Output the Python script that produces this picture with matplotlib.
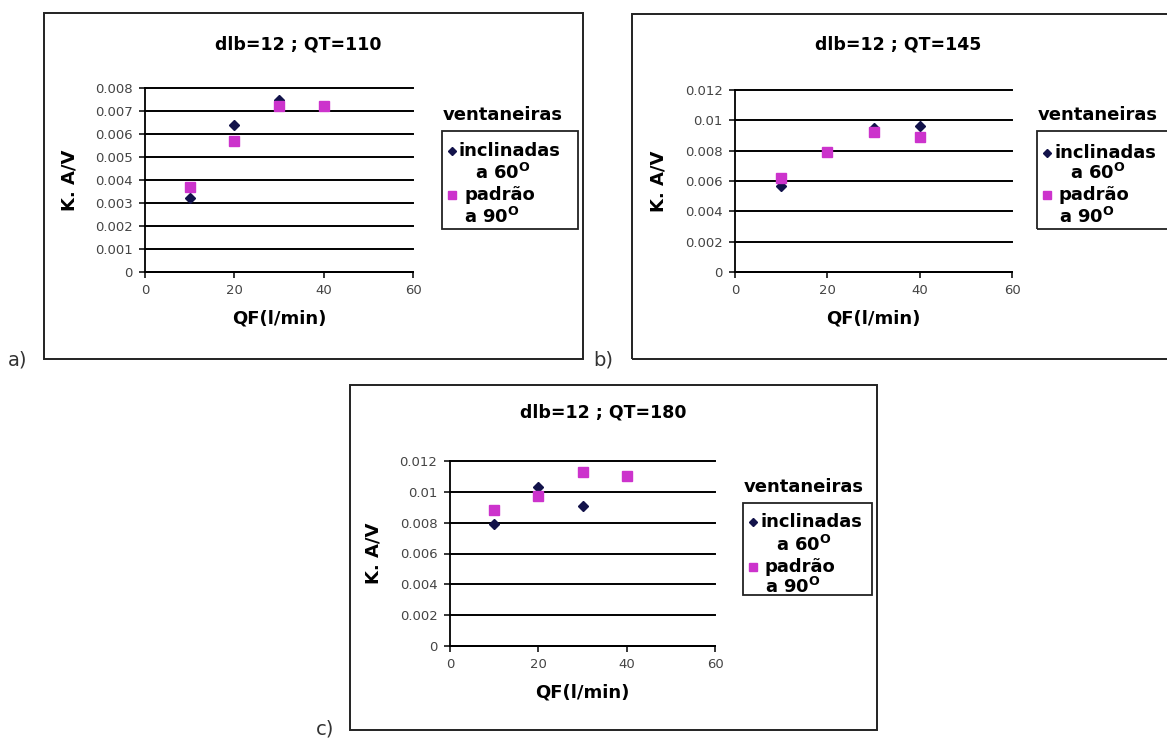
import numpy as np
import matplotlib
matplotlib.use('Agg')
from matplotlib import pyplot as plt  # noqa
from matplotlib.patches import Rectangle
from matplotlib.lines import Line2D
from matplotlib.ticker import FuncFormatter

W, H = 1167, 738

# data
qf = [10, 20, 30, 40]
incl_110 = [0.0032, 0.0064, 0.0075, np.nan]
padrao_110 = [0.0037, 0.0057, 0.0072, 0.0072]
incl_145 = [0.0057, np.nan, 0.0095, 0.0096]
padrao_145 = [0.0062, 0.0079, 0.0092, 0.0089]
incl_180 = [0.0079, 0.0103, 0.0091, np.nan]
padrao_180 = [0.0088, 0.0097, 0.0113, 0.0110]

titles = ['dlb=12 ; QT=110', 'dlb=12 ; QT=145', 'dlb=12 ; QT=180']
tags = ['a)', 'b)', 'c)']
y_max = [0.008, 0.012, 0.012]
y_step = [0.001, 0.002, 0.002]
x_ticks = [0, 20, 40, 60]
legend_title = 'ventaneiras'
legend_labels = [('inclinadas', 'a 60$^{\\mathbf{O}}$'), ('padrão', 'a 90$^{\\mathbf{O}}$')]

NAVY = '#12124a'
MAGENTA = '#cc33cc'

# pixel layout of the three panels
panels = [
    dict(box=(44, 13, 583, 359), plot=(145, 88, 413, 272), title=(298, 44),
         leg=(442, 131, 136, 98), rows=(20, 42, 64, 86), tag=(8, 360)),
    dict(box=(632, 14, 1185, 359), plot=(735, 90, 1012, 272), title=(898, 45),
         leg=(1037, 131, 145, 98), rows=(22, 42, 64, 86), tag=(593, 360)),
    dict(box=(350, 385, 877, 730), plot=(450, 461, 715, 646), title=(603, 413),
         leg=(743, 503, 129, 92), rows=(19, 42, 64, 84), tag=(316, 729)),
]


def fx(x):
    return x / W


def fy(y):
    return 1 - y / H


fig = plt.figure(figsize=(W / 100, H / 100), dpi=100)
fig.patch.set_facecolor('white')

bold = dict(fontfamily='DejaVu Sans', fontweight='bold')

series = [(incl_110, padrao_110), (incl_145, padrao_145), (incl_180, padrao_180)]

for i, p in enumerate(panels):
    x0, y0, x1, y1 = p['box']
    fig.add_artist(Rectangle((fx(x0), fy(y1)), fx(x1 - x0), (y1 - y0) / H,
                             transform=fig.transFigure, fill=False,
                             edgecolor='#222222', lw=1.4))

    l, t, r, b = p['plot']
    ax = fig.add_axes([fx(l), fy(b), fx(r - l), (b - t) / H])
    incl, padrao = series[i]
    ax.plot(qf, incl, linestyle='none', marker='D', ms=5.5, color=NAVY,
            clip_on=False, zorder=3)
    ax.plot(qf, padrao, linestyle='none', marker='s', ms=6.5, color=MAGENTA,
            clip_on=False, zorder=4)
    ax.set_xlim(0, 60)
    ax.set_ylim(0, y_max[i])
    ax.set_xticks(x_ticks)
    ax.set_yticks(np.arange(0, y_max[i] + y_step[i] / 2, y_step[i]))
    ax.yaxis.set_major_formatter(FuncFormatter(lambda v, pos: '%g' % round(v, 4)))
    ax.yaxis.grid(True, color='black', lw=1.4)
    for line in ax.get_ygridlines():
        line.set_clip_on(False)
    ax.set_axisbelow(True)
    for s in ('top', 'right'):
        ax.spines[s].set_visible(False)
    for s in ('left', 'bottom'):
        ax.spines[s].set_linewidth(1.3)
    ax.tick_params(direction='out', length=4, width=1.1, labelsize=9.5,
                   labelcolor='#444444', pad=5)
    ax.set_xlabel('QF(l/min)', fontsize=13, labelpad=9, **bold)
    ax.set_ylabel('K. A/V', fontsize=13, labelpad=12, **bold)

    fig.text(fx(p['title'][0]), fy(p['title'][1]), titles[i], ha='center',
             va='center', fontsize=12.5, **bold)

    L, T, w, h = p['leg']
    fig.add_artist(Rectangle((fx(L), fy(T + h)), fx(w), h / H,
                             transform=fig.transFigure, fill=False,
                             edgecolor='#222222', lw=1.3))
    fig.text(fx(L + 1), fy(T - 16), legend_title, ha='left', va='center',
             fontsize=13, **bold)
    r1, r2, r3, r4 = p['rows']
    fig.add_artist(Line2D([fx(L + 10)], [fy(T + r1)], marker='D', ms=4.5,
                          color=NAVY, transform=fig.transFigure))
    fig.text(fx(L + 17), fy(T + r1), legend_labels[0][0], ha='left',
             va='center', fontsize=13, **bold)
    fig.text(fx(L + 33), fy(T + r2), legend_labels[0][1], ha='left',
             va='center', fontsize=13, **bold)
    fig.add_artist(Line2D([fx(L + 10)], [fy(T + r3)], marker='s', ms=6,
                          color=MAGENTA, transform=fig.transFigure))
    fig.text(fx(L + 22), fy(T + r3), legend_labels[1][0], ha='left',
             va='center', fontsize=13, **bold)
    fig.text(fx(L + 22), fy(T + r4), legend_labels[1][1], ha='left',
             va='center', fontsize=13, **bold)

    fig.text(fx(p['tag'][0]), fy(p['tag'][1]), tags[i], ha='left',
             va='center', fontsize=14, color='#333333')

fig.savefig('out.png', dpi=100, facecolor='white')
